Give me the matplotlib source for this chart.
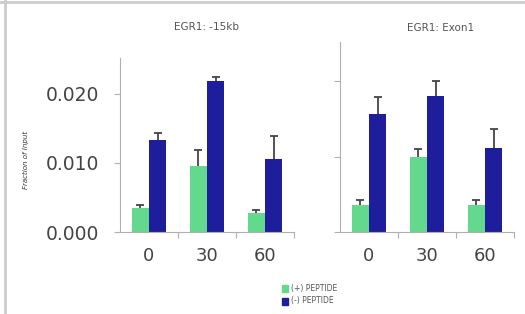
import matplotlib
matplotlib.use("Agg")
import matplotlib.pyplot as plt
import numpy as np
from matplotlib.patches import Rectangle
from matplotlib.lines import Line2D

categories = ["0", "30", "60"]
titles = ["EGR1: -15kb", "EGR1: Exon1"]
plus_left = [0.0035, 0.0096, 0.0027]
plus_left_err = [0.0004, 0.0023, 0.0005]
minus_left = [0.0133, 0.0219, 0.0106]
minus_left_err = [0.0010, 0.0006, 0.0033]
plus_right = [0.0036, 0.0100, 0.0036]
plus_right_err = [0.0006, 0.0010, 0.0006]
minus_right = [0.0157, 0.0180, 0.0112]
minus_right_err = [0.0022, 0.0020, 0.0024]
series_names = ["(+) PEPTIDE", "(-) PEPTIDE"]
yticks = [0.0, 0.010, 0.020]
ytick_labels = ["0.000", "0.010", "0.020"]

W, H = 525, 314
fig = plt.figure(figsize=(W / 100, H / 100), dpi=100)
fig.patch.set_facecolor("white")

green = "#62d98c"
navy = "#1e1e9c"
axcol = "#b0b0b0"
txtcol = "#555555"
errcol = "#444444"

def ax_rect(x0, x1, y0, y1):
    return [x0 / W, 1 - y1 / H, (x1 - x0) / W, (y1 - y0) / H]

axL = fig.add_axes(ax_rect(120, 294, 58, 232))
axR = fig.add_axes(ax_rect(340, 514, 42, 232))

data = [(axL, plus_left, plus_left_err, minus_left, minus_left_err),
        (axR, plus_right, plus_right_err, minus_right, minus_right_err)]
x = np.arange(len(categories))
bw = 0.30

def upper_err(ax, xs, vals, errs):
    vals = np.asarray(vals)
    tops = vals + np.asarray(errs)
    ax.vlines(xs, vals, tops, color=errcol, lw=1.3, zorder=3)
    ax.plot(xs, tops, ls="none", marker="_", ms=6, mew=1.3, color=errcol, zorder=3)

for i, (ax, p, pe, m, me) in enumerate(data):
    ax.bar(x - bw / 2, p, bw, color=green, edgecolor="none", zorder=2)
    ax.bar(x + bw / 2, m, bw, color=navy, edgecolor="none", zorder=2)
    upper_err(ax, x - bw / 2, p, pe)
    upper_err(ax, x + bw / 2, m, me)
    ax.set_xlim(-0.5, 2.5)
    ax.set_ylim(0, 0.0252)
    for s in ["top", "right"]:
        ax.spines[s].set_visible(False)
    for s in ["left", "bottom"]:
        ax.spines[s].set_color(axcol)
        ax.spines[s].set_linewidth(0.8)
    ax.set_xticks([0.5, 1.5, 2.5])
    ax.set_xticklabels([])
    ax.set_xticks(x, minor=True)
    ax.set_xticklabels(categories, minor=True, fontsize=13, color="#444444")
    ax.tick_params(axis="x", which="major", length=4, color=axcol, direction="out")
    ax.tick_params(axis="x", which="minor", length=0, pad=11)
    ax.set_yticks(yticks)
    ax.tick_params(axis="y", length=4, color=axcol, direction="out")
    if i == 0:
        ax.set_yticklabels(ytick_labels, fontsize=13.5, color="#444444")
        ax.tick_params(axis="y", pad=11)
    else:
        ax.set_yticklabels([])
    ax.set_facecolor("none")

axL.set_title(titles[0], fontsize=7.5, color=txtcol, pad=20)
fig.text(441 / W, 1 - 28 / H, titles[1], fontsize=7.5, color=txtcol,
         ha="center", va="center")
fig.text(26 / W, 1 - 160 / H, "Fraction of Input", fontsize=5, color="#333333",
         rotation=90, ha="center", va="center", style="italic")

# legend
for j, (name, col) in enumerate(zip(series_names, [green, navy])):
    yy = 288 + j * 13
    fig.patches.append(Rectangle((282 / W, 1 - (yy + 3.5) / H), 6 / W, 7 / H,
                                 transform=fig.transFigure, color=col))
    fig.text(291 / W, 1 - yy / H, name, fontsize=5.5, color="#555555",
             ha="left", va="center")

# frame lines
fig.add_artist(Line2D([5 / W, 5 / W], [0, 1], transform=fig.transFigure,
                      color="#cccccc", lw=2))
fig.add_artist(Line2D([0, 1], [1 - 2 / H, 1 - 2 / H], transform=fig.transFigure,
                      color="#cccccc", lw=2))

fig.savefig("out.png", dpi=100)
